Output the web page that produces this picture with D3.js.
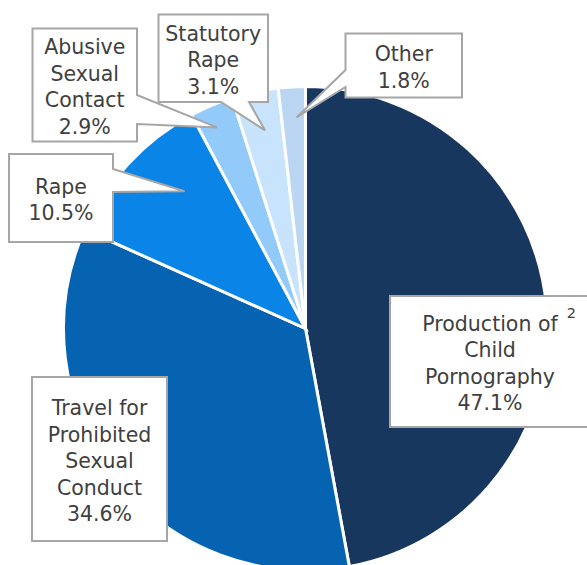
<!DOCTYPE html>
<html><head><meta charset="utf-8">
<script src="https://cdn.jsdelivr.net/npm/d3@7"></script>
<style>html,body{margin:0;padding:0;background:#fff;overflow:hidden}</style>
</head><body>
<svg id="chart" width="587" height="565"></svg>
<script>
// ---- data ----
const categories = ["Production of Child Pornography", "Travel for Prohibited Sexual Conduct", "Rape", "Abusive Sexual Contact", "Statutory Rape", "Other"];
const values = [47.1, 34.6, 10.5, 2.9, 3.1, 1.8];
const labelLines = [
  ["Production of", "Child", "Pornography"],
  ["Travel for", "Prohibited", "Sexual", "Conduct"],
  ["Rape"],
  ["Abusive", "Sexual", "Contact"],
  ["Statutory", "Rape"],
  ["Other"]
];
const footnotes = ["2", null, null, null, null, null];

// ---- layout / style ----
const colors = ["#17375E", "#0563B2", "#0A84E6", "#92CBFA", "#C8E4FC", "#BAD6F2"];
const cx = 305.5, cy = 328.5, R = 242;
// callout boxes: [x0, y0, x1, y1], pointer side, pointer base range, tip radius frac, tip angle offset (deg)
const boxes = [
  {b: [390, 296, 590, 427], side: null},
  {b: [32, 377, 167, 541], side: null},
  {b: [9, 154, 113, 242], side: "right", p: [169, 192], tr: 0.756, da: 5.6},
  {b: [32.5, 28.5, 137, 141.5], side: "right", p: [95, 124], tr: 0.908, da: -0.9},
  {b: [158.5, 14.5, 268, 102], side: "bottom", p: [221, 249], tr: 0.836, da: 0.5},
  {b: [345.5, 33.5, 462, 97.5], side: "left", p: [70, 87], tr: 0.873, da: 0.8}
];

const svg = d3.select("#chart");
const g = svg.append("g").attr("transform", `translate(${cx},${cy})`);

const pie = d3.pie().sort(null).value(d => d).startAngle(0).endAngle(2 * Math.PI);
const arcs = pie(values);
const arc = d3.arc().innerRadius(0).outerRadius(R);

g.selectAll("path.slice").data(arcs).enter().append("path")
  .attr("class", "slice")
  .attr("d", arc)
  .attr("fill", (d, i) => colors[i])
  .attr("stroke", "#fff")
  .attr("stroke-width", 3)
  .attr("stroke-linejoin", "miter");

// callouts
const fmt = v => d3.format(".1f")(v) + "%";
arcs.forEach((d, i) => {
  const L = boxes[i];
  const [x0, y0, x1, y1] = L.b;
  let pts = [];
  if (L.side) {
    const a = (d.startAngle + d.endAngle) / 2 + L.da * Math.PI / 180;
    const tx = cx + Math.sin(a) * R * L.tr, ty = cy - Math.cos(a) * R * L.tr;
    if (L.side === "right") {
      pts = [[x0, y0], [x1, y0], [x1, L.p[0]], [tx, ty], [x1, L.p[1]], [x1, y1], [x0, y1]];
    } else if (L.side === "bottom") {
      pts = [[x0, y0], [x1, y0], [x1, y1], [L.p[1], y1], [tx, ty], [L.p[0], y1], [x0, y1]];
    } else if (L.side === "left") {
      pts = [[x0, y0], [x1, y0], [x1, y1], [x0, y1], [x0, L.p[1]], [tx, ty], [x0, L.p[0]]];
    }
  } else {
    pts = [[x0, y0], [x1, y0], [x1, y1], [x0, y1]];
  }
  svg.append("path")
    .attr("d", d3.line()(pts) + "Z")
    .attr("fill", "#fff")
    .attr("stroke", "#A6A6A6")
    .attr("stroke-width", 2)
    .attr("stroke-linejoin", "miter");

  const lines = labelLines[i].concat([fmt(values[i])]);
  const lh = 26.5;
  const mx = (x0 + x1) / 2, my = (y0 + y1) / 2 + 2;
  const t = svg.append("text")
    .attr("font-family", "DejaVu Sans, sans-serif")
    .attr("font-size", 20.5)
    .attr("fill", "#404040")
    .attr("text-anchor", "middle");
  lines.forEach((s, k) => {
    t.append("tspan")
      .attr("x", mx)
      .attr("y", my + (k - (lines.length - 1) / 2) * lh)
      .attr("dominant-baseline", "central")
      .text(s);
  });
  if (footnotes[i]) {
    const first = t.select("tspan").node();
    const w = first.getComputedTextLength();
    svg.append("text")
      .attr("x", mx + w / 2 + 9)
      .attr("y", my - (lines.length - 1) / 2 * lh - 11)
      .attr("dominant-baseline", "central")
      .attr("font-family", "DejaVu Sans, sans-serif")
      .attr("font-size", 14.5)
      .attr("fill", "#404040")
      .text(footnotes[i]);
  }
});
</script>
</body></html>
